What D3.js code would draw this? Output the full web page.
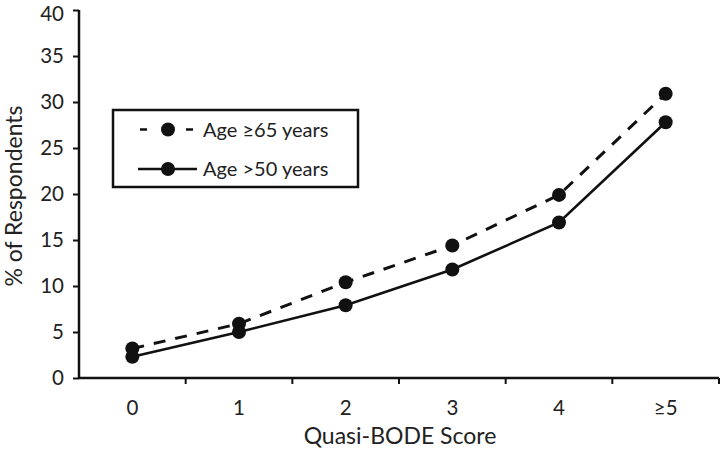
<!DOCTYPE html>
<html><head><meta charset="utf-8">
<script src="https://cdn.jsdelivr.net/npm/d3@7"></script>
<style>body{margin:0;background:#fff}svg{display:block}text{font-family:Lato,"Open Sans",sans-serif;fill:#222}</style>
</head><body><svg id="c" width="720" height="452"></svg>
<script>
const categories = ["0","1","2","3","4","≥5"];
const age65 = [3.2, 5.9, 10.4, 14.4, 19.9, 30.9];
const age50 = [2.3, 5.0, 7.9, 11.8, 16.9, 27.8];
const yTicks = [0,5,10,15,20,25,30,35,40];
const seriesNames = ["Age ≥65 years", "Age >50 years"];

const svg = d3.select("#c");
const m = {l:79, r:719, t:10, b:378};
const x = d3.scaleBand().domain(categories).range([m.l, m.r]);
const y = d3.scaleLinear().domain([0,40]).range([m.b, m.t]);

const yAxis = svg.append("g").attr("transform",`translate(${m.l},0)`)
  .call(d3.axisLeft(y).tickValues(yTicks).tickSize(6).tickPadding(9));
const xAxis = svg.append("g").attr("transform",`translate(0,${m.b})`)
  .call(d3.axisBottom(x).tickSize(0).tickPadding(22));
xAxis.selectAll(".bt").data(categories).enter().append("line")
  .attr("x1",d=>x(d) + x.bandwidth()).attr("x2",d=>x(d) + x.bandwidth())
  .attr("y1",0).attr("y2",6).attr("stroke","#111").attr("stroke-width",2);
[yAxis,xAxis].forEach(g=>{
  g.select(".domain").attr("stroke","#111").attr("stroke-width",2.5);
  g.selectAll(".tick line").attr("stroke","#111").attr("stroke-width",2);
  g.selectAll("text").style("font-size","20.5px").style("font-family","Lato,'Open Sans',sans-serif").attr("fill","#222");
});
// keep the top label inside the picture
yAxis.selectAll(".tick text").filter(d=>d===40).attr("dy","0.5em");
xAxis.select(".domain").attr("d",`M${m.l},0H${m.r}`);
yAxis.select(".domain").attr("d",`M0,${m.t}V${m.b}`);

const cx = d => x(d) + x.bandwidth()/2;
const line = d3.line().x((d,i)=>cx(categories[i])).y(d=>y(d));

svg.append("path").datum(age65).attr("d",line).attr("fill","none")
  .attr("stroke","#111").attr("stroke-width",3).attr("stroke-dasharray","12,10");
svg.append("path").datum(age50).attr("d",line).attr("fill","none")
  .attr("stroke","#111").attr("stroke-width",2.6);
[age65, age50].forEach(s=>{
  svg.append("g").selectAll("circle").data(s).enter().append("circle")
    .attr("cx",(d,i)=>cx(categories[i])).attr("cy",d=>y(d)).attr("r",7).attr("fill","#111");
});

const lg = svg.append("g");
lg.append("rect").attr("x",113).attr("y",110).attr("width",245).attr("height",77)
  .attr("fill","#fff").attr("stroke","#111").attr("stroke-width",2.5);
const rows = [{y:129.5, dash:true}, {y:169, dash:false}];
rows.forEach((r,i)=>{
  const ln = lg.append("line").attr("x1",138).attr("x2",197).attr("y1",r.y).attr("y2",r.y)
    .attr("stroke","#111").attr("stroke-width",2.6);
  if (r.dash) ln.attr("stroke-dasharray","7,16").attr("stroke-dashoffset","-2");
  lg.append("circle").attr("cx",168).attr("cy",r.y).attr("r",7).attr("fill","#111");
  lg.append("text").attr("x",203).attr("y",r.y).attr("dy","0.35em").style("font-size","20px").text(seriesNames[i]);
});

svg.append("text").attr("x",400).attr("y",444).attr("text-anchor","middle").style("font-size","23px").text("Quasi-BODE Score");
svg.append("text").attr("transform","translate(22,196) rotate(-90)").attr("text-anchor","middle").style("font-size","23px").text("% of Respondents");
</script></body></html>
